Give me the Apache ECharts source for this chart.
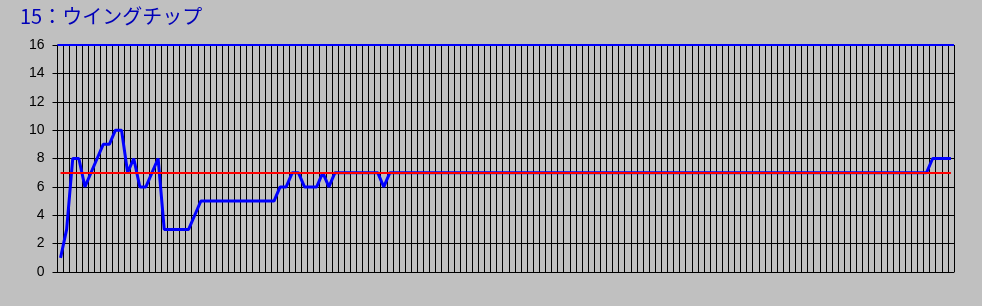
<!DOCTYPE html>
<html>
<head>
<meta charset="utf-8">
<script src="https://cdn.jsdelivr.net/npm/echarts@6/dist/echarts.min.js"></script>
<style>
html,body{margin:0;padding:0;background:#C0C0C0;}
#chart{width:982px;height:306px;}
</style>
</head>
<body>
<div id="chart"></div>
<script>
const titleText = '15：ウイングチップ';
const yTicks = [0, 2, 4, 6, 8, 10, 12, 14, 16];
const referenceLevel = 7;
const topLevel = 16;
const rankValues = [
  1, 3, 8, 8, 6, 7, 8, 9, 9, 10,
  10, 7, 8, 6, 6, 7, 8, 3, 3, 3,
  3, 3, 4, 5, 5, 5, 5, 5, 5, 5,
  5, 5, 5, 5, 5, 5, 6, 6, 7, 7,
  6, 6, 6, 7, 6, 7, 7, 7, 7, 7,
  7, 7, 7, 6, 7, 7, 7, 7, 7, 7,
  7, 7, 7, 7, 7, 7, 7, 7, 7, 7,
  7, 7, 7, 7, 7, 7, 7, 7, 7, 7,
  7, 7, 7, 7, 7, 7, 7, 7, 7, 7,
  7, 7, 7, 7, 7, 7, 7, 7, 7, 7,
  7, 7, 7, 7, 7, 7, 7, 7, 7, 7,
  7, 7, 7, 7, 7, 7, 7, 7, 7, 7,
  7, 7, 7, 7, 7, 7, 7, 7, 7, 7,
  7, 7, 7, 7, 7, 7, 7, 7, 7, 7,
  7, 7, 7, 8, 8, 8, 8
];
const categories = rankValues.map((v, i) => String(i + 1));

const chart = echarts.init(document.getElementById('chart'), null, {renderer: 'canvas'});
chart.setOption({
  backgroundColor: '#C0C0C0',
  animation: false,
  title: {
    text: titleText,
    left: 15,
    top: 1,
    textStyle: {
      color: '#0000B8',
      fontSize: 20,
      fontWeight: 'normal',
      fontFamily: '"Noto Sans CJK JP", sans-serif'
    }
  },
  grid: {left: 57.5, right: 28, top: 45, bottom: 34, containLabel: false},
  xAxis: {
    type: 'category',
    data: categories,
    boundaryGap: true,
    axisLine: {show: true, lineStyle: {color: '#000', width: 1}},
    axisTick: {show: false},
    axisLabel: {show: false},
    splitLine: {show: true, interval: 0, lineStyle: {color: '#000', width: 1}}
  },
  yAxis: {
    type: 'value',
    min: yTicks[0],
    max: yTicks[yTicks.length - 1],
    interval: 2,
    axisLine: {show: true, lineStyle: {color: '#000', width: 1}},
    axisTick: {show: true, length: 5, lineStyle: {color: '#000'}},
    axisLabel: {
      margin: 13,
      color: '#000',
      fontSize: 14,
      fontFamily: '"Liberation Sans", Arial, sans-serif'
    },
    splitLine: {show: true, lineStyle: {color: '#000', width: 1}}
  },
  series: [
    {
      name: 'ref',
      type: 'line',
      data: [],
      z: 1,
      silent: true,
      markLine: {
        silent: true,
        symbol: 'none',
        label: {show: false},
        lineStyle: {color: '#FF0000', width: 2, type: 'solid'},
        emphasis: {disabled: true},
        data: [
          [{coord: [categories[0], referenceLevel]}, {coord: [categories[categories.length - 1], referenceLevel]}]
        ]
      }
    },
    {
      name: 'top',
      type: 'line',
      data: [],
      z: 4,
      silent: true,
      markLine: {
        silent: true,
        symbol: 'none',
        label: {show: false},
        lineStyle: {color: '#0000FF', width: 2, type: 'solid'},
        emphasis: {disabled: true},
        data: [{yAxis: topLevel}]
      }
    },
    {
      name: 'rank',
      type: 'line',
      data: rankValues,
      z: 3,
      showSymbol: false,
      symbol: 'none',
      lineStyle: {color: '#0000FF', width: 3},
      itemStyle: {color: '#0000FF'},
      emphasis: {disabled: true},
      silent: true
    }
  ]
});
</script>
</body>
</html>
